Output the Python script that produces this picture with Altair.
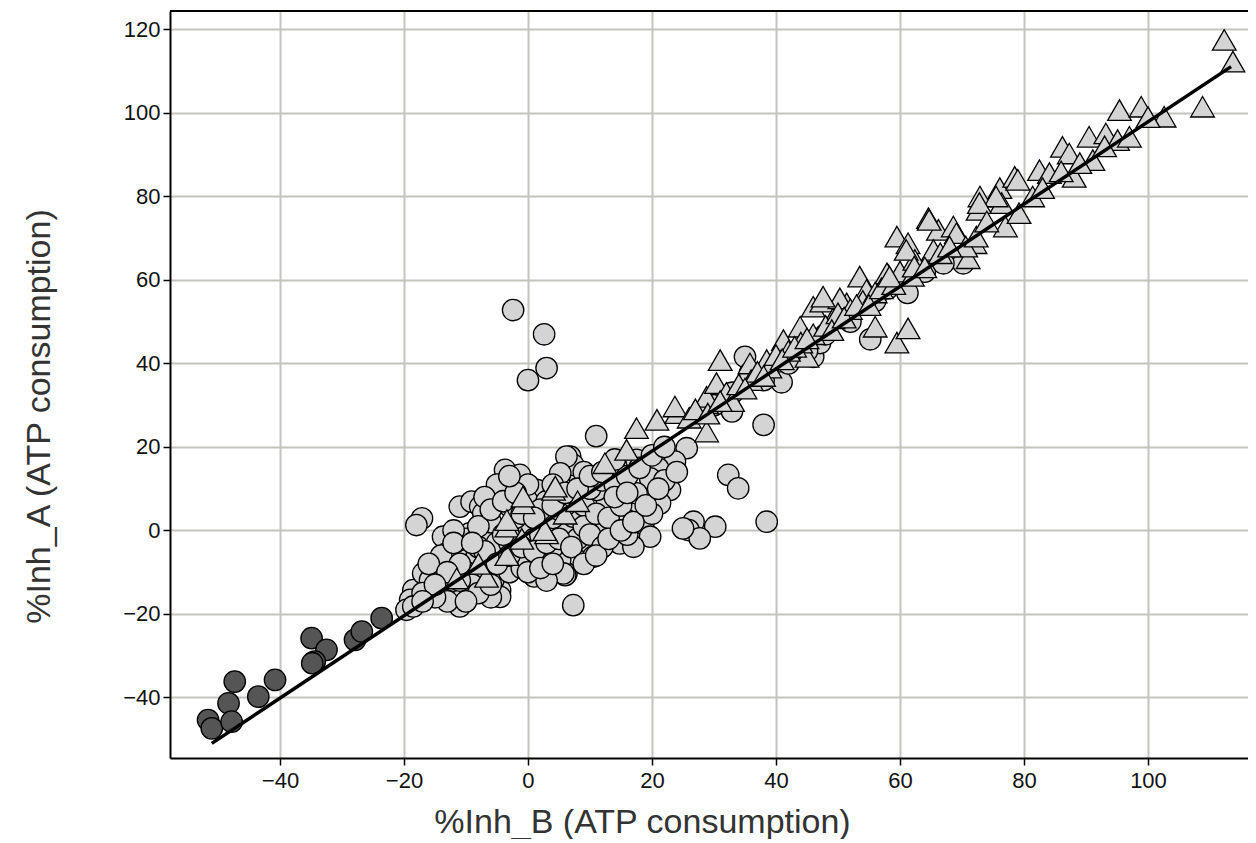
import altair as alt
import pandas as pd

# ---- data ----
circle_x = [-2.4, 2.6, 3.0, 0.0,
            38.0, 32.3, 33.9, 38.5, 26.7, 30.2, 25.9, 27.7, 25.0,
            32.9, 40.9, 35.0, 35.8, 46.0, 47.1, 55.2, 61.2, 70.2,
            22.9, 25.6, 23.7, 21.0, 19.7, 21.3, 18.1, 18.6, 19.7,
            15.9, 13.2, 14.8, 17.0, 10.0, 10.5, 7.9, 6.2, 15.4, 17.5, 12.7, 11.1, 8.4, 6.8, 7.3, 13.8, 17.5, 11.0,
            7.3, 6.0, 12.7,
            -3.7, -1.3, -4.2, -11.0, -9.1, -7.7, -7.2, -17.1, -18.0, -13.7, -13.1, -11.0, -9.4, -7.7, -6.1, -9.9, -8.3,
            -12.6, -15.3, -16.3, -18.5, -19.0, -19.6, -13.1, -10.4, -11.0, -4.5, -5.6, -2.4, 0.3, 1.9, 5.2, 5.7, 4.1,
            6.2, 7.3, 6.2, 5.2, 1.4, -0.2, -2.9, -0.8, -4.5, -16.9, -18.5, -7.2, -8.3, -4.5, -15.8,
            -14, -12, -10, -8, -6, -5, -3, -2, -1, 0, 1, 2, 3, 4, 5, 6, 8, 9, 10, 12, 14, 16, 18, 20, 22,
            -3, -1, 1, 3, 4, 8, 9, 11, 13, 15, -6, -10, -12, -14, -16, -9, -6, -2, 0, 2, 3, 0, -5, -7, -2,
            10, 12, 16, 20, 22, 24, 14, 9, 4, -11, -13, -17, -15, -12, -8, -4,
            -7, -5, -3, -1, 1, 3, 5, 7, 9, 11, 13, 15, 17, 19, 21, -9, -11, -13, -15, -17,
            -6, -4, -2, 2, 4, 6, 8, 10, 12, 14, 16, -8, -6, -10, 0, 2, 4, -3, -1, 1,
            30, 33, 38, 42, 45, 48, 52, 56, 58, 64, 67]
circle_y = [52.8, 47.0, 38.9, 36.0,
            25.3, 13.3, 10.1, 2.1, 2.1, 0.9, 0.1, -1.9, 0.5,
            28.5, 35.5, 41.6, 37.7, 41.6, 44.9, 45.8, 56.9, 64.0,
            9.7, 19.7, 16.5, 14.9, 12.5, 6.5, 4.9, 1.7, -1.5,
            2.5, 0.1, -3.1, -3.9, -3.1, -6.3, 3.3, -10.3, 9.7, 8.9, 7.3, 9.7, 12.1, 17.7, 15.7, 15.3, 16.9, 22.6,
            -17.9, -10.7, 0.9,
            14.5, 13.3, 9.3, 5.7, 6.9, 5.7, 4.1, 2.9, 1.3, -1.5, -5.5, -5.5, -0.7, -2.3, -2.3, -7.1, -6.3,
            -9.5, -11.1, -12.6, -14.3, -16.6, -19.0, -15.0, -15.9, -18.2, -14.3, -11.9, -7.1, -3.9, -6.3, -7.1, -10.3, -1.5,
            1.7, 3.3, 17.7, 13.7, 9.7, 7.3, 5.7, 2.5, -7.1, -10.3, -18.2, -8.7, -11.9, -15.9, -11.9,
            -14, -12, -10, -4, -6, -3, -3, 0, -1, 1, -2, 2, 4, 3, 5, 6, 8, 6, 10, 12, 11, 13, 15, 18, 20,
            -10, -9, -11, -12, -4, -2, 1, 4, 3, 6, 2, -2, 0, -6, -8, -13, -16, -5, -7, -1, 7, 11, 11, 8, 3,
            -1, -4, -1, 4, 12, 14, 17, 14, 11, -12, -17, -15, -16, -3, 1, -1,
            -5, -8, -6, -4, -5, -3, -2, -4, -8, -6, -2, 0, 2, 6, 10, -3, -8, -10, -13, -17,
            5, 7, 9, 5, 6, 9, 10, 13, 14, 8, 9, -15, -13, -17, -10, -9, -8, 13, 4, 3,
            30, 33, 36, 40, 43, 47, 50, 55, 58, 62, 64]

dark_x = [-51.6, -51.0, -48.3, -47.3, -47.8, -43.5, -40.8, -34.9, -32.5, -34.4, -34.8, -27.9, -26.8, -23.6]
dark_y = [-45.4, -47.4, -41.4, -36.2, -45.8, -39.8, -35.8, -25.8, -28.6, -31.4, -31.8, -26.2, -24.2, -21.0]

tri_x = [-3.4, -0.8, 3.0, 4.1, -3.4, -6.7, -11.5, -3.4, 2.7, 4.4, -0.8, -1, -8, 6, 8,
         12.4, 15.9, 17.5, 20.8, 24.0, 23.7, 28.8, 28.8, 28.8, 30.4, 31.0, 35.8, 38.5, 41.2, 43.9, 45.0,
         46.0, 47.4, 49.2, 51.4, 53.5, 54.6, 56.0, 58.1, 59.5, 61.3, 50.3, 47.6, 57.9,
         32, 33, 34, 36, 37, 39, 40, 42, 44, 46, 48, 50, 52, 54, 56,
         26, 27, 29, 31, 35, 38, 41, 43, 45, 49, 51, 53, 55, 57, 59, 60, 62,
         64.6, 66.2, 68.6, 69.1, 59.5, 61.3, 62.4, 65.4, 66.5, 71.0, 72.1, 72.9, 72.6, 76.1, 78.5, 76.4, 77.0,
         70.6, 72.3, 64.7, 61.0, 62.3, 58.3, 79.0, 79.2, 81.4, 82.5, 84.1, 86.2, 87.3, 88.1, 91.1, 90.5, 93.2,
         95.1, 97.0, 95.4, 98.9, 102.6, 108.8, 112.3, 113.7, 75.5, 72.8, 74, 68, 64, 83, 86, 89, 93, 100]
tri_y = [0.9, 6.5, -0.7, 9.7, -5.9, -11.1, -11.5, 2.5, 0.1, 10.5, 8.1, -2, -8, 4, 7,
         16.1, 19.3, 24.5, 26.5, 28.1, 29.7, 23.7, 30.5, 32.0, 35.3, 40.8, 40.0, 40.8, 45.6, 48.8, 41.6,
         53.6, 54.8, 50.8, 54.4, 60.8, 57.6, 48.8, 61.2, 45.0, 48.4, 55.6, 56.0, 61.6,
         33, 31, 35, 36, 38, 39, 42, 43, 45, 47, 49, 52, 53, 55, 57,
         27, 29, 28, 31, 34, 37, 41, 44, 46, 48, 51, 54, 54, 58, 59, 62, 61,
         74.8, 72.0, 72.8, 71.2, 70.4, 68.8, 64.8, 67.2, 66.4, 65.2, 68.8, 80.0, 76.8, 82.0, 84.7, 78.4, 72.8,
         68.0, 70.4, 74.4, 67.2, 63.2, 60.8, 84.0, 76.0, 80.0, 86.3, 85.6, 91.9, 90.3, 84.7, 88.7, 94.3, 95.1,
         93.5, 94.3, 100.7, 101.5, 99.1, 101.5, 117.5, 112.3, 80.0, 78.4, 74, 68, 63, 82, 86, 88, 92, 99]

fit_x = [-51.0, 113.4]
fit_y = [-51.0, 111.1]

x_ticks = [-40, -20, 0, 20, 40, 60, 80, 100]
y_ticks = [-40, -20, 0, 20, 40, 60, 80, 100, 120]

W, H = 1078, 747
XDOM = [-57.74, 116.13]
YDOM = [-54.5, 124.43]

circles = pd.DataFrame({"x": circle_x, "y": circle_y})
darks = pd.DataFrame({"x": dark_x, "y": dark_y})
tris = pd.DataFrame({"x": tri_x, "y": tri_y})
fit = pd.DataFrame({"x": fit_x, "y": fit_y})

xs = alt.Scale(domain=XDOM, nice=False, zero=False)
ys = alt.Scale(domain=YDOM, nice=False, zero=False)

xaxis = alt.Axis(values=x_ticks, title="%Inh_B (ATP consumption)", titleX=472, titleY=74,
                 titleBaseline="alphabetic", titleAlign="center", labelPadding=5)
yaxis = alt.Axis(values=y_ticks, title="%Inh_A (ATP consumption)", titleX=-121, titleY=405,
                 titleAngle=270, titleBaseline="alphabetic", titleAlign="center", labelPadding=3)

base_x = alt.X("x:Q", scale=xs, axis=xaxis)
base_y = alt.Y("y:Q", scale=ys, axis=yaxis)

c_layer = alt.Chart(circles).mark_point(shape="circle", filled=True, size=460, fill="#d4d4d4",
                                       stroke="#000000", strokeWidth=1.3, opacity=1).encode(x=base_x, y=base_y)
d_layer = alt.Chart(darks).mark_point(shape="circle", filled=True, size=460, fill="#555555",
                                     stroke="#000000", strokeWidth=1.3, opacity=1).encode(x="x:Q", y="y:Q")
t_layer = alt.Chart(tris).mark_point(shape="triangle-up", filled=True, size=560, fill="#d4d4d4",
                                    stroke="#000000", strokeWidth=1.3, opacity=1).encode(x="x:Q", y="y:Q")
f_layer = alt.Chart(fit).mark_line(color="#000000", strokeWidth=3.5).encode(x="x:Q", y="y:Q")
top_rule = alt.Chart(fit).mark_rule(color="#000000", strokeWidth=2).encode(
    x=alt.value(0), x2=alt.value(W), y=alt.value(0))

chart = alt.layer(c_layer, d_layer, t_layer, f_layer, top_rule).properties(
    width=W, height=H,
    autosize=alt.AutoSizeParams(type="none"),
    padding={"left": 162, "top": 3, "right": 0, "bottom": 81},
    background="#ffffff",
).configure_view(stroke=None).configure_axis(
    domainColor="#000000", domainWidth=2,
    tickColor="#000000", tickWidth=1.5, tickSize=7,
    gridColor="#c4c4bc", gridWidth=2,
    labelFont="Liberation Sans", labelFontSize=22, labelColor="#111111",
    titleFont="Liberation Sans", titleFontSize=34, titleFontWeight="normal", titleColor="#333333",
)

chart.save("out.html", embed_options={"renderer": "svg", "actions": False})
